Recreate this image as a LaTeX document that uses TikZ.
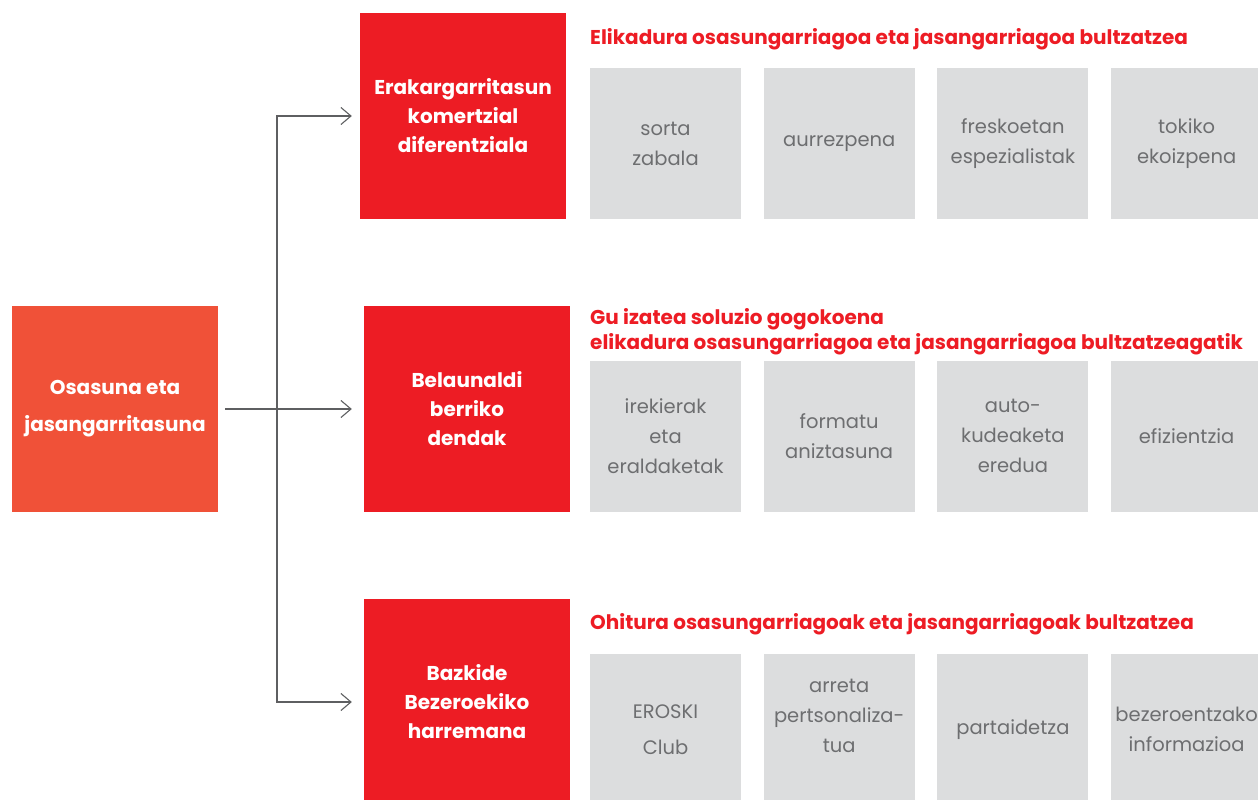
\documentclass[tikz,border=0pt]{standalone}
\usepackage{fontspec}
\setmainfont{Poppins}
\usetikzlibrary{arrows.meta}
\usetikzlibrary{positioning}
\definecolor{erosred}{HTML}{ED1C24}
\definecolor{rootred}{HTML}{F05138}
\definecolor{cardgray}{HTML}{DCDDDE}
\definecolor{cardtext}{HTML}{6D6E70}
\definecolor{linegray}{HTML}{5E5F61}

\begin{document}
\begin{tikzpicture}[x=1pt, y=-1pt,
  root/.style={fill=rootred, text=white, font=\bfseries\fontsize{20}{37}\selectfont, align=center, minimum width=206pt, minimum height=206pt, inner sep=0pt},
  pillar/.style={fill=erosred, text=white, font=\bfseries\fontsize{20}{29}\selectfont, align=center, minimum width=206pt, minimum height=206pt, inner sep=0pt},
  card/.style={fill=cardgray, text=cardtext, font=\fontsize{19.5}{30}\selectfont, align=center, minimum width=151pt, minimum height=151pt, inner sep=0pt},
  goal/.style={text=erosred, font=\bfseries\fontsize{20}{25}\selectfont, align=left, anchor=west, inner sep=0pt},
  link/.style={draw=linegray, line width=1.1pt, -{Straight Barb[length=10pt,width=17pt]}}]
\useasboundingbox (0,0) rectangle (1258,800);

% left root and the three pillars
\node[root] (osasuna) at (115,409) {Osasuna eta\\jasangarritasuna};
\node[pillar] (erak) at (463,116) {Erakargarritasun\\komertzial\\diferentziala};
\node[pillar] (belaun) at (467,409) {Belaunaldi\\berriko\\dendak};
\node[pillar] (bazkide) at (467,702) {Bazkide\\Bezeroekiko\\harremana};

% red headings
\node[goal] (eligoal) at (590,39) {Elikadura osasungarriagoa eta jasangarriagoa bultzatzea};
\node[goal] (gugoal) at (590,332) {Gu izatea soluzio gogokoena\\elikadura osasungarriagoa eta jasangarriagoa bultzatzeagatik};
\node[goal] (ohigoal) at (590,624) {Ohitura osasungarriagoak eta jasangarriagoak bultzatzea};

% gray cards
\foreach \txt [count=\i] in {{sorta\\zabala}, aurrezpena, {freskoetan\\espezialistak}, {tokiko\\ekoizpena}} {
  \node[card] (eli-\i) at ({665.5+173.7*(\i-1)},143.5) {\txt};
}
\foreach \txt [count=\i] in {{irekierak\\eta\\eraldaketak}, {formatu\\aniztasuna}, {auto-\\kudeaketa\\eredua}, efizientzia} {
  \node[card] (gu-\i) at ({665.5+173.7*(\i-1)},436) {\txt};
}
\foreach \txt/\dy [count=\i] in {{EROSKI\\[6pt]Club}/0, {arreta\\pertsonaliza-\\tua}/14, partaidetza/0, {bezeroentzako\\informazioa}/0} {
  \node[card] (ohi-\i) at ({665.5+173.7*(\i-1)},729.5) {};
  \node[text=cardtext, font=\fontsize{19.5}{30}\selectfont, align=center] at ([yshift=\dy]ohi-\i.center) {\txt};
}

% connectors
\coordinate (split) at (277,409);
\draw[link, shorten <=7pt, shorten >=12pt] (osasuna) -- (belaun);
\draw[link, shorten >=8pt] (split) |- (erak.west);
\draw[link, shorten >=12pt] (split) |- (bazkide.west);
\end{tikzpicture}
\end{document}
